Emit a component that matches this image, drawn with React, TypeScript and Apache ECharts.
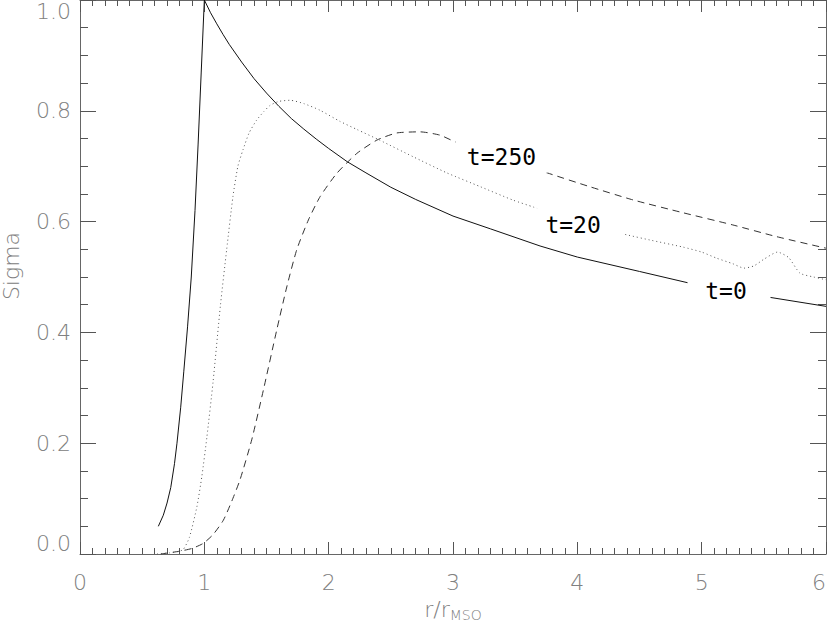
import React, { useEffect, useRef } from "react";
import * as echarts from "echarts";

// t=0 (solid)
const t0R = [0.63, 0.67, 0.70, 0.73, 0.76, 0.78, 0.81, 0.835, 0.865, 0.895, 0.925, 0.95, 0.975, 1.0, 1.05, 1.1, 1.15, 1.2, 1.3, 1.4, 1.5, 1.6, 1.7, 1.8, 1.9, 2.0, 2.15, 2.3, 2.5, 2.7, 3.0, 3.3, 3.7, 4.0, 4.5, 4.9, 5.5, 6.0];
const t0Sigma = [0.05, 0.07, 0.092, 0.12, 0.163, 0.2, 0.265, 0.33, 0.41, 0.5, 0.62, 0.74, 0.87, 1.0, 0.977, 0.957, 0.938, 0.92, 0.888, 0.858, 0.832, 0.808, 0.786, 0.767, 0.749, 0.732, 0.708, 0.688, 0.662, 0.64, 0.61, 0.587, 0.556, 0.536, 0.51, 0.489, 0.465, 0.447];

// t=20 (dotted)
const t20R = [0.62, 0.72, 0.78, 0.83, 0.88, 0.94, 0.98, 1.02, 1.07, 1.13, 1.18, 1.23, 1.27, 1.31, 1.36, 1.42, 1.48, 1.53, 1.6, 1.69, 1.8, 1.93, 2.09, 2.23, 2.41, 2.68, 2.95, 3.22, 3.48, 3.65, 3.9, 4.15, 4.4, 4.6, 4.85, 5.0, 5.12, 5.25, 5.34, 5.42, 5.5, 5.61, 5.7, 5.79, 5.9, 6.0];
const t20Sigma = [0.0, 0.002, 0.004, 0.008, 0.03, 0.085, 0.14, 0.21, 0.31, 0.45, 0.55, 0.645, 0.7, 0.729, 0.76, 0.783, 0.799, 0.81, 0.817, 0.819, 0.813, 0.801, 0.781, 0.766, 0.747, 0.717, 0.688, 0.663, 0.639, 0.626, 0.606, 0.59, 0.576, 0.566, 0.554, 0.545, 0.534, 0.524, 0.516, 0.52, 0.532, 0.545, 0.535, 0.507, 0.5, 0.495];

// t=250 (dashed)
const t250R = [0.65, 0.8, 0.9, 0.99, 1.07, 1.153, 1.22, 1.287, 1.381, 1.475, 1.582, 1.663, 1.743, 1.837, 1.931, 2.065, 2.226, 2.387, 2.548, 2.735, 2.896, 3.017, 3.4, 3.757, 4.1, 4.45, 4.85, 5.25, 5.6, 6.0];
const t250Sigma = [0.0, 0.005, 0.01, 0.019, 0.035, 0.061, 0.095, 0.134, 0.206, 0.296, 0.404, 0.482, 0.549, 0.603, 0.645, 0.687, 0.723, 0.747, 0.76, 0.762, 0.756, 0.744, 0.715, 0.688, 0.663, 0.639, 0.616, 0.594, 0.573, 0.552];

// curve labels (text, anchor in data coordinates)
const labelT0 = { text: "t=0", at: [5.22, 0.475] };
const labelT20 = { text: "t=20", at: [4.03, 0.598] };
const labelT250 = { text: "t=250", at: [3.39, 0.717] };

const xTicks = [0, 1, 2, 3, 4, 5, 6];

const pairs = (xs: number[], ys: number[]) => xs.map((x, i) => [x, ys[i]]);

const AXIS_COLOR = "#666";
const LABEL_COLOR = "#808080";
const FONT = "DejaVu Sans";

function curveLabel(lbl: { text: string; at: number[] }, size: number[], offset: number[]) {
  return {
    silent: true,
    symbol: "rect",
    symbolSize: size,
    itemStyle: { color: "#fff" },
    label: {
      show: true,
      position: "inside",
      offset,
      formatter: lbl.text,
      color: "#000",
      fontFamily: "DejaVu Sans Mono",
      fontSize: 23,
    },
    data: [{ coord: lbl.at }],
  };
}

export default function App() {
  const ref = useRef<HTMLDivElement>(null);

  useEffect(() => {
    if (!ref.current) return;
    const chart = echarts.init(ref.current, undefined, { renderer: "svg" });

    const tickStyle = { color: "#555", width: 1 };
    const baseX = {
      type: "value",
      min: xTicks[0],
      max: xTicks[xTicks.length - 1],
      interval: 1,
      axisLine: { show: true, onZero: false, lineStyle: { color: AXIS_COLOR, width: 1 } },
      axisTick: { show: true, inside: true, length: 12, lineStyle: tickStyle },
      minorTick: { show: true, splitNumber: 10, length: 6, lineStyle: tickStyle },
      splitLine: { show: false },
    };
    const baseY = {
      type: "value",
      min: 0,
      max: 1,
      interval: 0.2,
      axisLine: { show: true, onZero: false, lineStyle: { color: AXIS_COLOR, width: 1 } },
      axisTick: { show: true, inside: true, length: 16, lineStyle: tickStyle },
      minorTick: { show: true, splitNumber: 4, length: 8, lineStyle: tickStyle },
      splitLine: { show: false },
    };

    const option: any = {
      animation: false,
      backgroundColor: "#fff",
      grid: { left: 80, right: 4, top: 0, bottom: 73, containLabel: false, outerBoundsMode: "none" },
      xAxis: [
        {
          ...baseX,
          position: "bottom",
          axisLabel: {
            show: true,
            margin: 17,
            color: LABEL_COLOR,
            fontFamily: FONT,
            fontWeight: 200,
            fontSize: 22,
            alignMaxLabel: "right",
            formatter: (v: number) => String(v),
          },
          name: "{a|r/r}{b|MSO}",
          nameLocation: "middle",
          nameGap: 42,
          nameTextStyle: {
            rich: {
              a: { fontFamily: FONT, fontWeight: 200, fontSize: 22, color: LABEL_COLOR },
              b: { fontFamily: FONT, fontWeight: 200, fontSize: 14, color: LABEL_COLOR, padding: [12, 0, 0, 0] },
            },
          },
        },
        { ...baseX, position: "top", axisLabel: { show: false } },
      ],
      yAxis: [
        {
          ...baseY,
          position: "left",
          axisLabel: {
            show: true,
            margin: 9,
            color: LABEL_COLOR,
            fontFamily: FONT,
            fontWeight: 200,
            fontSize: 22,
            formatter: (v: number) => v.toFixed(1),
            verticalAlignMinLabel: "bottom",
            verticalAlignMaxLabel: "top",
          },
        },
        { ...baseY, position: "right", axisLabel: { show: false } },
      ],
      graphic: [
        {
          type: "text",
          x: 11,
          y: 266,
          rotation: Math.PI / 2,
          style: {
            text: "Sigma",
            fill: LABEL_COLOR,
            font: `200 22px "${FONT}"`,
            align: "center",
            verticalAlign: "middle",
          },
        },
      ],
      series: [
        {
          type: "line",
          name: "t=250",
          data: pairs(t250R, t250Sigma),
          showSymbol: false,
          smooth: 0.2,
          lineStyle: { color: "#333", width: 1, type: [7, 5] },
          markPoint: curveLabel(labelT250, [92, 32], [0, 0]),
        },
        {
          type: "line",
          name: "t=20",
          data: pairs(t20R, t20Sigma),
          showSymbol: false,
          smooth: 0.2,
          lineStyle: { color: "#555", width: 1, type: [1, 3] },
          markPoint: curveLabel(labelT20, [88, 30], [-8, 2]),
        },
        {
          type: "line",
          name: "t=0",
          data: pairs(t0R, t0Sigma),
          showSymbol: false,
          smooth: false,
          lineStyle: { color: "#111", width: 1, type: "solid" },
          markPoint: curveLabel(labelT0, [83, 22], [-3, 0]),
        },
      ],
    };

    chart.setOption(option);
    return () => chart.dispose();
  }, []);

  return (
    <div
      ref={ref}
      style={{ position: "fixed", left: 0, top: 0, width: 830, height: 627, background: "#fff" }}
    />
  );
}
